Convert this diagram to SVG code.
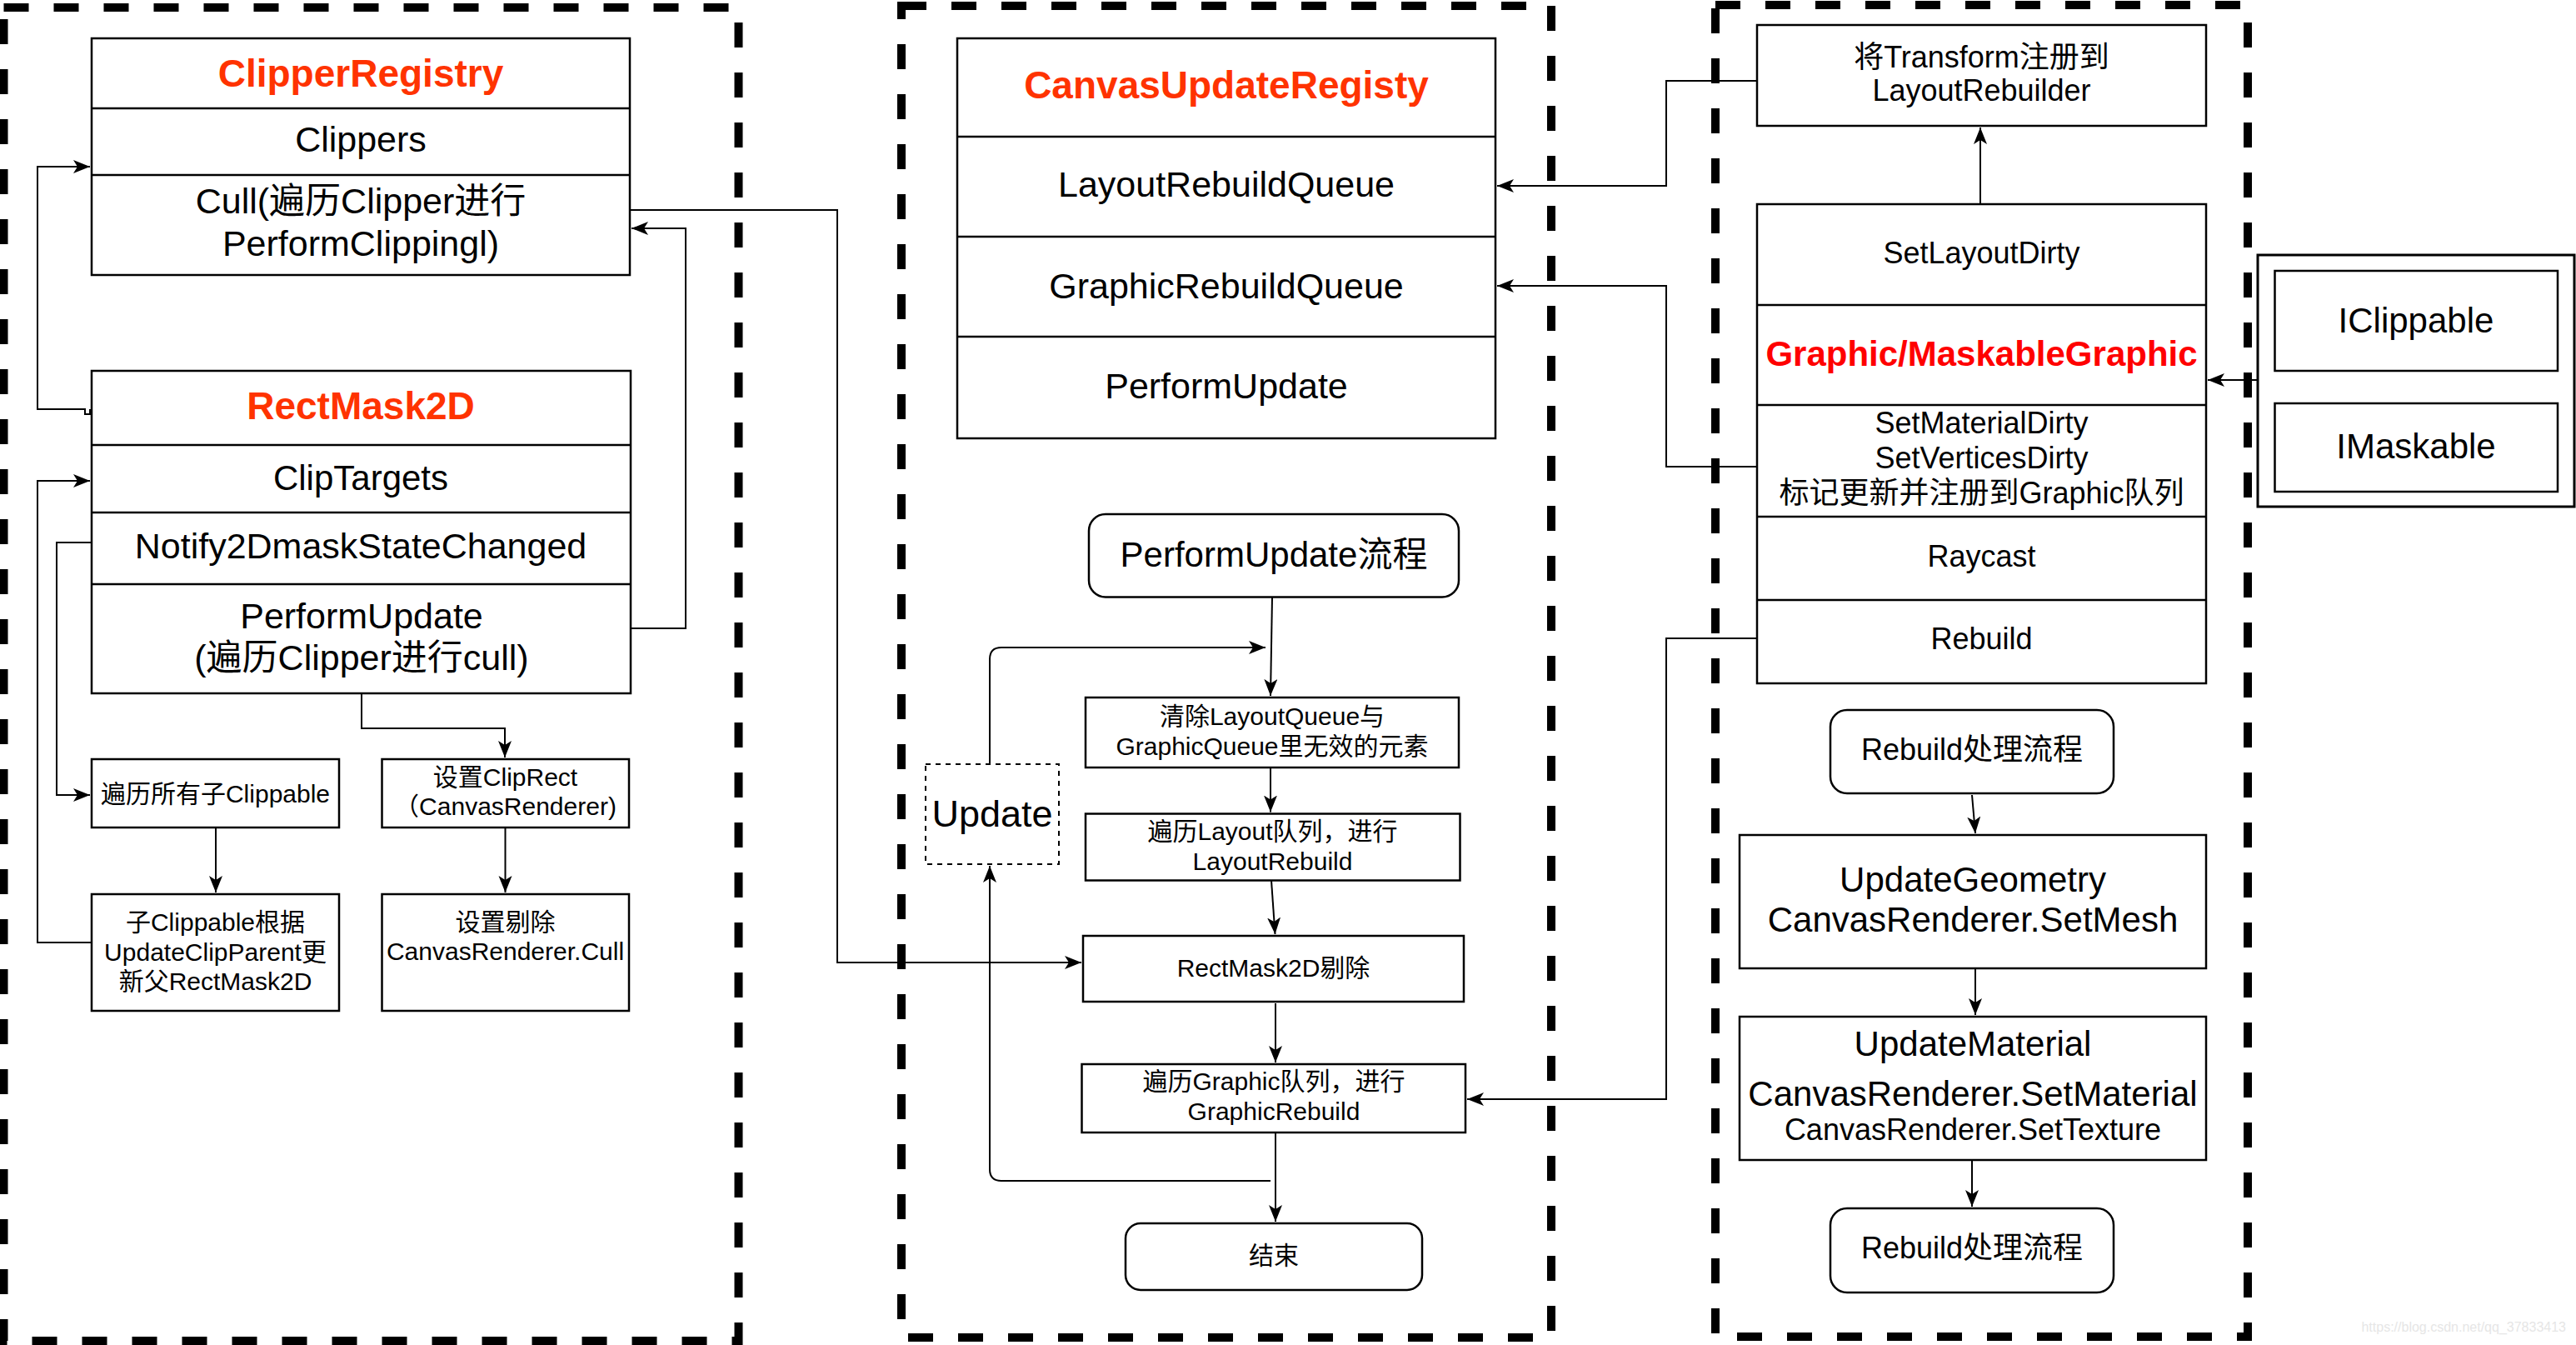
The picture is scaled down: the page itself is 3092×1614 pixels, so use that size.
<svg xmlns="http://www.w3.org/2000/svg" width="3092" height="1614" viewBox="0 0 3092 1614">
<style>
text{font-family:"Liberation Sans","Noto Sans CJK SC",sans-serif;fill:#000;text-anchor:middle}
.box{fill:#fff;stroke:#000;stroke-width:2.5}
.row{fill:none;stroke:#000;stroke-width:2.5}
.cont{fill:none;stroke:#000;stroke-width:10;stroke-dasharray:30 30}
.ln{fill:none;stroke:#000;stroke-width:2}
.t46{font-size:46px;font-weight:bold;fill:#FF3300}
.t43{font-size:43px}
.t42{font-size:42px}
.t36{font-size:36px}
.t30{font-size:30px}
</style>
<defs>
<marker id="arr" markerUnits="userSpaceOnUse" markerWidth="22" markerHeight="18" refX="20" refY="8" orient="auto">
<path d="M0,0 L20,8 L0,16 L5,8 Z" fill="#000"/>
</marker>
</defs>

<!-- containers -->
<rect class="cont" x="4.5" y="9" width="882" height="1600"/>
<rect class="cont" x="1082" y="7" width="780" height="1598"/>
<rect class="cont" x="2059" y="6" width="639" height="1598"/>

<!-- Left panel -->
<g id="ClipperRegistry">
<rect class="box" x="110" y="46" width="646" height="284"/>
<line class="row" x1="110" y1="130" x2="756" y2="130"/>
<line class="row" x1="110" y1="210" x2="756" y2="210"/>
<text class="t46" x="433" y="104">ClipperRegistry</text>
<text class="t43" x="433" y="182">Clippers</text>
<text class="t43" x="433" y="256">Cull(遍历Clipper进行</text>
<text class="t43" x="433" y="307">PerformClippingl)</text>
</g>
<g id="RectMask2D">
<rect class="box" x="110" y="445" width="647" height="387"/>
<line class="row" x1="110" y1="534" x2="757" y2="534"/>
<line class="row" x1="110" y1="615" x2="757" y2="615"/>
<line class="row" x1="110" y1="701" x2="757" y2="701"/>
<text class="t46" x="433" y="503">RectMask2D</text>
<text class="t42" x="433" y="588">ClipTargets</text>
<text class="t43" x="433" y="670">Notify2DmaskStateChanged</text>
<text class="t43" x="434" y="754">PerformUpdate</text>
<text class="t43" x="434" y="804">(遍历Clipper进行cull)</text>
</g>
<g id="TraverseClippable">
<rect class="box" x="110" y="911" width="297" height="82"/>
<text class="t30" x="258.5" y="963">遍历所有子Clippable</text>
</g>
<g id="SetClipRect">
<rect class="box" x="458.5" y="911" width="296.5" height="82"/>
<text class="t30" x="606.5" y="943">设置ClipRect</text>
<text class="t30" x="606.5" y="978">（CanvasRenderer)</text>
</g>
<g id="UpdateClipParent">
<rect class="box" x="110" y="1073" width="297" height="140"/>
<text class="t30" x="258.5" y="1117">子Clippable根据</text>
<text class="t30" x="258.5" y="1153">UpdateClipParent更</text>
<text class="t30" x="258.5" y="1188">新父RectMask2D</text>
</g>
<g id="SetCull">
<rect class="box" x="458.5" y="1073" width="296.5" height="140"/>
<text class="t30" x="606.5" y="1117">设置剔除</text>
<text class="t30" x="606.5" y="1152">CanvasRenderer.Cull</text>
</g>

<!-- Middle panel -->
<g id="CanvasUpdateRegisty">
<rect class="box" x="1149" y="46" width="646" height="480"/>
<line class="row" x1="1149" y1="164" x2="1795" y2="164"/>
<line class="row" x1="1149" y1="284" x2="1795" y2="284"/>
<line class="row" x1="1149" y1="404" x2="1795" y2="404"/>
<text class="t46" x="1472" y="118">CanvasUpdateRegisty</text>
<text class="t43" x="1472" y="236">LayoutRebuildQueue</text>
<text class="t43" x="1472" y="358">GraphicRebuildQueue</text>
<text class="t43" x="1472" y="478">PerformUpdate</text>
</g>
<g id="PerformUpdateFlow">
<rect class="box" x="1307" y="617" width="444" height="99.5" rx="20"/>
<text class="t42" x="1529" y="680">PerformUpdate流程</text>
</g>
<g id="ClearInvalid">
<rect class="box" x="1303" y="837" width="448" height="84"/>
<text class="t30" x="1527" y="870">清除LayoutQueue与</text>
<text class="t30" x="1527" y="906">GraphicQueue里无效的元素</text>
</g>
<g id="LayoutRebuild">
<rect class="box" x="1303" y="976.5" width="449.5" height="80"/>
<text class="t30" x="1527.5" y="1008">遍历Layout队列，进行</text>
<text class="t30" x="1527.5" y="1044">LayoutRebuild</text>
</g>
<g id="RectMask2DCull">
<rect class="box" x="1300" y="1123" width="457" height="79"/>
<text class="t30" x="1528.5" y="1172">RectMask2D剔除</text>
</g>
<g id="GraphicRebuild">
<rect class="box" x="1298.5" y="1277" width="460.5" height="82"/>
<text class="t30" x="1529" y="1308">遍历Graphic队列，进行</text>
<text class="t30" x="1529" y="1344">GraphicRebuild</text>
</g>
<g id="End">
<rect class="box" x="1351" y="1468" width="356" height="80" rx="18"/>
<text class="t30" x="1529" y="1517">结束</text>
</g>
<g id="Update">
<rect x="1111" y="917" width="160" height="120" fill="#fff" stroke="#000" stroke-width="2" stroke-dasharray="6 6"/>
<text x="1191" y="992" style="font-size:45px">Update</text>
</g>

<!-- Right panel -->
<g id="RegisterTransform">
<rect class="box" x="2109" y="30" width="539" height="121"/>
<text class="t36" x="2378.5" y="81">将Transform注册到</text>
<text class="t36" x="2378.5" y="121">LayoutRebuilder</text>
</g>
<g id="Graphic">
<rect class="box" x="2109" y="245" width="539" height="575"/>
<line class="row" x1="2109" y1="366" x2="2648" y2="366"/>
<line class="row" x1="2109" y1="486" x2="2648" y2="486"/>
<line class="row" x1="2109" y1="620" x2="2648" y2="620"/>
<line class="row" x1="2109" y1="720" x2="2648" y2="720"/>
<text class="t36" x="2378.5" y="316">SetLayoutDirty</text>
<text x="2378.5" y="439" style="font-size:42px;font-weight:bold;fill:#FF0000">Graphic/MaskableGraphic</text>
<text class="t36" x="2378.5" y="520">SetMaterialDirty</text>
<text class="t36" x="2378.5" y="562">SetVerticesDirty</text>
<text class="t36" x="2378.5" y="604">标记更新并注册到Graphic队列</text>
<text class="t36" x="2378.5" y="680">Raycast</text>
<text class="t36" x="2378.5" y="779">Rebuild</text>
</g>
<g id="Interfaces">
<rect x="2710" y="306" width="380" height="302" fill="#fff" stroke="#000" stroke-width="3"/>
<rect class="box" x="2730.5" y="325" width="339.5" height="120"/>
<text class="t42" x="2900" y="399">IClippable</text>
<rect class="box" x="2730.5" y="484" width="339.5" height="106"/>
<text class="t42" x="2900" y="550">IMaskable</text>
</g>
<g id="RebuildFlowStart">
<rect class="box" x="2197" y="852" width="340" height="100" rx="20"/>
<text class="t36" x="2367" y="912">Rebuild处理流程</text>
</g>
<g id="UpdateGeometry">
<rect class="box" x="2088" y="1002" width="560" height="160"/>
<text class="t42" x="2368" y="1070">UpdateGeometry</text>
<text class="t42" x="2368" y="1118">CanvasRenderer.SetMesh</text>
</g>
<g id="UpdateMaterial">
<rect class="box" x="2088" y="1220" width="560" height="172"/>
<text class="t42" x="2368" y="1267">UpdateMaterial</text>
<text class="t42" x="2368" y="1327">CanvasRenderer.SetMaterial</text>
<text class="t36" x="2368" y="1368">CanvasRenderer.SetTexture</text>
</g>
<g id="RebuildFlowEnd">
<rect class="box" x="2197" y="1450" width="340" height="101" rx="20"/>
<text class="t36" x="2367" y="1510">Rebuild处理流程</text>
</g>

<!-- connectors -->
<g id="connectors">
<path class="ln" d="M110,492 H108 V497 H102 V491 H45 V200 H108" marker-end="url(#arr)"/>
<path class="ln" d="M758,754 H823 V274 H758" marker-end="url(#arr)"/>
<path class="ln" d="M756,252 H1005 V1155 H1298" marker-end="url(#arr)"/>
<path class="ln" d="M110,651 H68 V954 H108" marker-end="url(#arr)"/>
<path class="ln" d="M110,1131 H45 V577 H108" marker-end="url(#arr)"/>
<path class="ln" d="M434,832 V874 H606 V909" marker-end="url(#arr)"/>
<path class="ln" d="M259,993 V1071" marker-end="url(#arr)"/>
<path class="ln" d="M606.5,993 V1071" marker-end="url(#arr)"/>

<path class="ln" d="M1527,716.5 L1525,835" marker-end="url(#arr)"/>
<path class="ln" d="M1525,921 V974.5" marker-end="url(#arr)"/>
<path class="ln" d="M1526,1056.5 L1530.5,1121" marker-end="url(#arr)"/>
<path class="ln" d="M1531,1204 V1275" marker-end="url(#arr)"/>
<path class="ln" d="M1531,1359 V1466" marker-end="url(#arr)"/>
<path class="ln" d="M1188,917 V791 Q1188,777 1202,777 H1519" marker-end="url(#arr)"/>
<path class="ln" d="M1525,1417 H1202 Q1188,1417 1188,1403 V1039" marker-end="url(#arr)"/>

<path class="ln" d="M2109,97 H2000 V223 H1797" marker-end="url(#arr)"/>
<path class="ln" d="M2109,560 H2000 V343 H1797" marker-end="url(#arr)"/>
<path class="ln" d="M2109,766 H2000 V1319 H1761" marker-end="url(#arr)"/>
<path class="ln" d="M2710,456 H2650" marker-end="url(#arr)"/>
<path class="ln" d="M2377,245 V153" marker-end="url(#arr)"/>
<path class="ln" d="M2367,954 L2371,1000" marker-end="url(#arr)"/>
<path class="ln" d="M2371,1162 V1218" marker-end="url(#arr)"/>
<path class="ln" d="M2367,1392 V1448" marker-end="url(#arr)"/>
</g>

<text x="3080" y="1598" style="font-size:16px;fill:#e6e6e6;text-anchor:end">https://blog.csdn.net/qq_37833413</text>
</svg>
